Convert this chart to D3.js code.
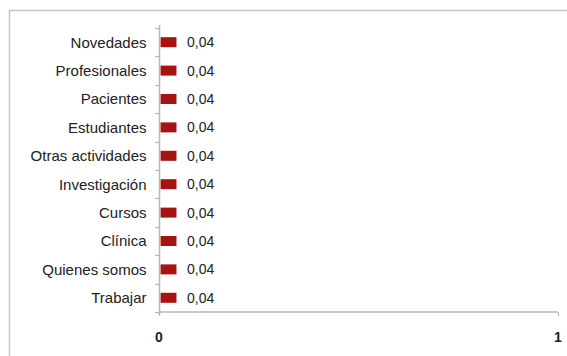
<!DOCTYPE html>
<html><head><meta charset="utf-8">
<script src="https://cdn.jsdelivr.net/npm/d3@7"></script>
<style>body{margin:0;background:#fff;} svg{display:block;}</style>
</head><body>
<script>
const categories = ["Novedades","Profesionales","Pacientes","Estudiantes","Otras actividades","Investigación","Cursos","Clínica","Quienes somos","Trabajar"];
const values = [0.04,0.04,0.04,0.04,0.04,0.04,0.04,0.04,0.04,0.04];
const xTicks = [0,1];

const W = 567, H = 356;
const font = "Liberation Sans, Arial, sans-serif";
const svg = d3.select("body").append("svg").attr("width",W).attr("height",H);
svg.append("rect").attr("x",9.5).attr("y",10.5).attr("width",620).attr("height",420)
  .attr("fill","none").attr("stroke","#c8c8c8").attr("stroke-width",1.5);

const x = d3.scaleLinear().domain([0,1]).range([159,558]);
const y = d3.scaleBand().domain(categories).range([28,312]);

// bars
svg.selectAll("rect.bar").data(values).join("rect").attr("class","bar")
  .attr("x",x(0)+1.5).attr("y",(d,i)=>y(categories[i])+y.bandwidth()/2-5)
  .attr("width",d=>x(d)-x(0)).attr("height",10).attr("fill","#a51313");

// value labels
svg.selectAll("text.val").data(values).join("text").attr("class","val")
  .attr("x",d=>x(d)+12).attr("y",(d,i)=>y(categories[i])+y.bandwidth()/2)
  .attr("dy","0.36em").attr("font-family",font)
  .attr("font-size",14).attr("fill","#222").text(d=>d.toFixed(2).replace(".",","));

// category labels
svg.selectAll("text.cat").data(categories).join("text").attr("class","cat")
  .attr("x",146.5).attr("y",d=>y(d)+y.bandwidth()/2).attr("dy","0.36em")
  .attr("text-anchor","end").attr("font-family",font)
  .attr("font-size",15).attr("fill","#222").text(d=>d);

const ax = "#b8b8b8";
// y axis line
svg.append("line").attr("x1",x(0)+0.5).attr("x2",x(0)+0.5).attr("y1",25).attr("y2",315)
  .attr("stroke",ax).attr("stroke-width",1.5);
// y ticks at band boundaries
const bounds = categories.map(c=>y(c)).concat([y.range()[1]]);
svg.selectAll("line.yt").data(bounds).join("line").attr("class","yt")
  .attr("x1",x(0)-4).attr("x2",x(0)).attr("y1",d=>Math.round(d)+0.5).attr("y2",d=>Math.round(d)+0.5)
  .attr("stroke",ax).attr("stroke-width",1.2);
// x axis line
svg.append("line").attr("x1",x(0)).attr("x2",x(1)).attr("y1",312).attr("y2",312)
  .attr("stroke",ax).attr("stroke-width",1.5);
svg.selectAll("line.xt").data(xTicks).join("line").attr("class","xt")
  .attr("x1",d=>x(d)+0.5).attr("x2",d=>x(d)+0.5).attr("y1",312).attr("y2",316)
  .attr("stroke",ax).attr("stroke-width",1.2);
svg.selectAll("text.xl").data(xTicks).join("text").attr("class","xl")
  .attr("x",d=>x(d)).attr("y",337).attr("dy","0.36em").attr("text-anchor","middle")
  .attr("font-family",font).attr("font-weight","bold")
  .attr("font-size",14).attr("fill","#222").text(d=>d);
</script>
</body></html>
